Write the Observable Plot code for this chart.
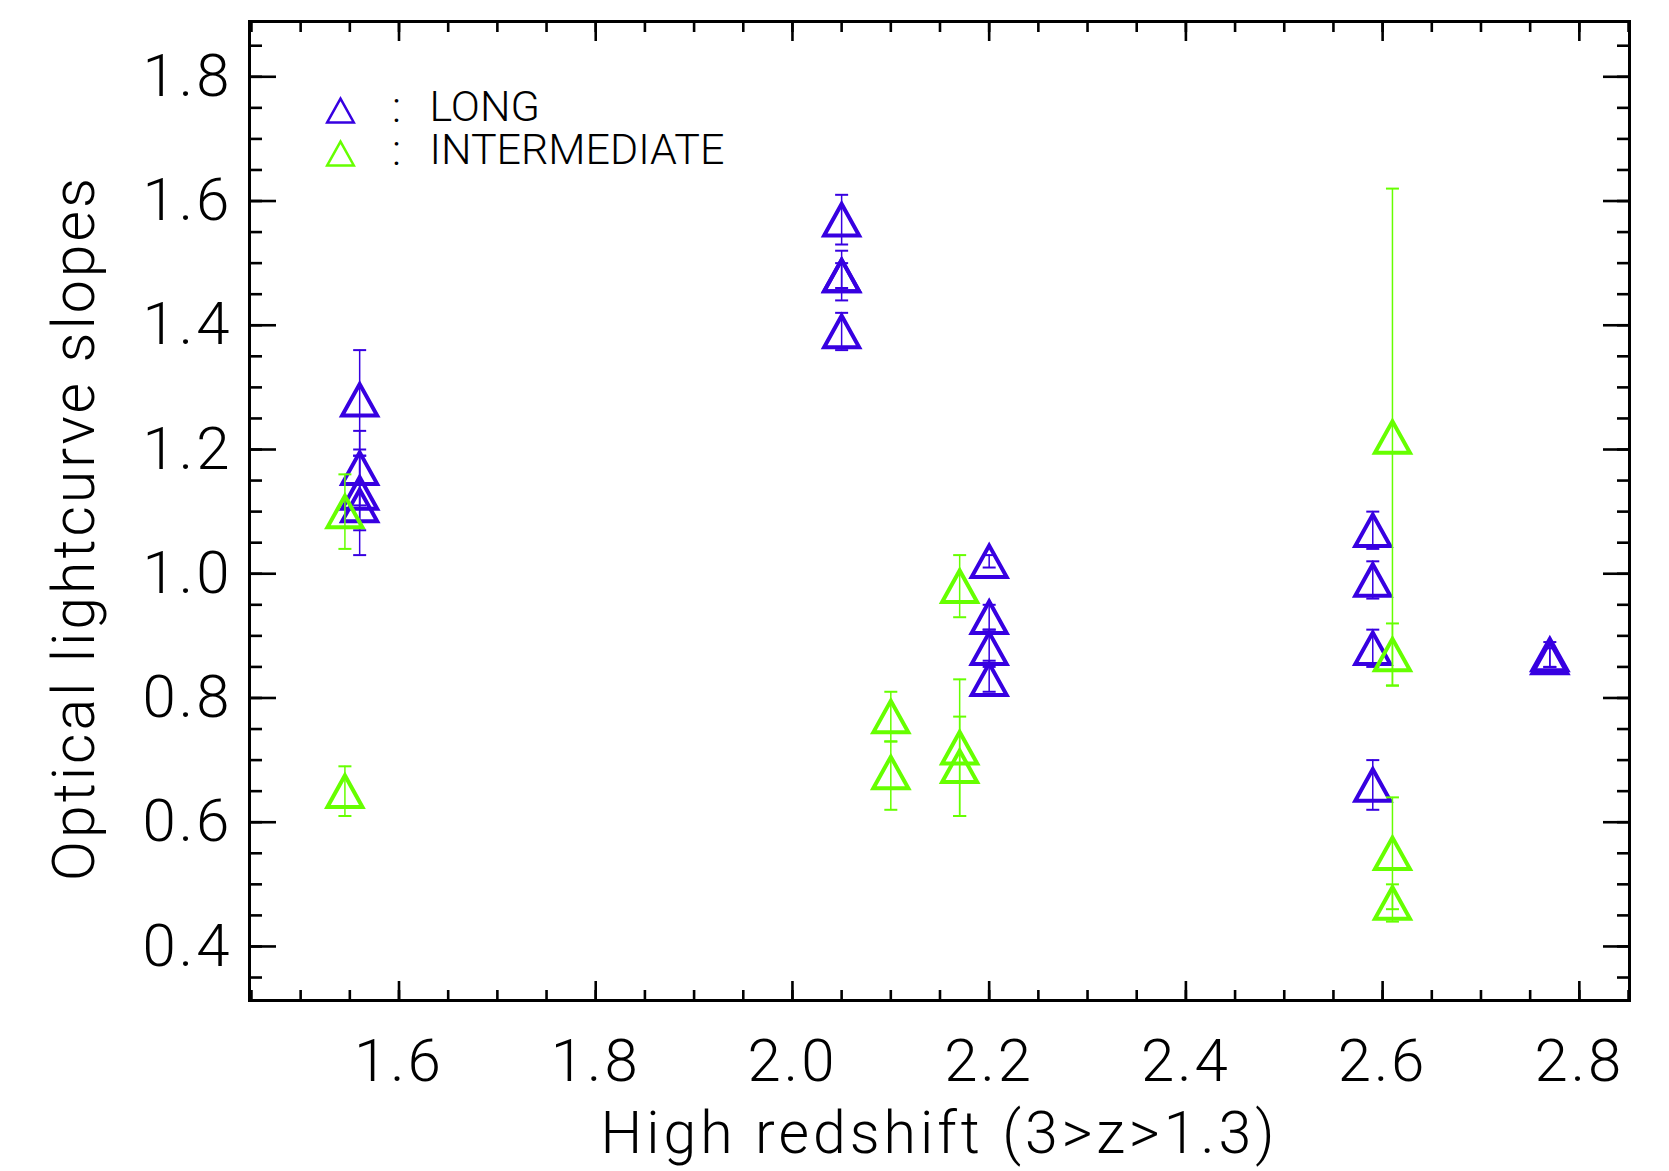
<!DOCTYPE html>
<html>
<head>
<meta charset="utf-8">
<script src="https://cdn.jsdelivr.net/npm/d3@7"></script>
<script src="https://cdn.jsdelivr.net/npm/@observablehq/plot@0.6"></script>
<style>
  html, body { margin: 0; padding: 0; background: #fff; }
</style>
</head>
<body>
<div id="chart"></div>
<script>
// ---- Data ----
const longZ     = [1.56, 1.56, 1.56, 1.56, 2.05, 2.05, 2.05, 2.05, 2.20, 2.20, 2.20, 2.20, 2.59, 2.59, 2.59, 2.59, 2.77, 2.77];
const longSlope = [1.28, 1.17, 1.13, 1.11, 1.57, 1.48, 1.48, 1.39, 1.02, 0.93, 0.88, 0.83, 1.07, 0.99, 0.88, 0.66, 0.87, 0.865];
const longLow   = [1.20, 1.11, 1.07, 1.03, 1.53, 1.44, 1.46, 1.36, 1.01, 0.91, 0.86, 0.81, 1.04, 0.96, 0.85, 0.62, 0.85, 0.85];
const longHigh  = [1.36, 1.23, 1.19, 1.19, 1.61, 1.52, 1.50, 1.42, 1.03, 0.95, 0.91, 0.85, 1.10, 1.02, 0.91, 0.70, 0.89, 0.88];

const interZ     = [1.545, 1.545, 2.10, 2.10, 2.17, 2.17, 2.17, 2.61, 2.61, 2.61, 2.61];
const interSlope = [1.10, 0.65, 0.77, 0.68, 0.98, 0.72, 0.69, 1.22, 0.87, 0.55, 0.47];
const interLow   = [1.04, 0.61, 0.73, 0.62, 0.93, 0.61, 0.61, 0.82, 0.82, 0.46, 0.44];
const interHigh  = [1.16, 0.69, 0.81, 0.73, 1.03, 0.83, 0.77, 1.62, 0.92, 0.64, 0.50];

const seriesNames = ["LONG", "INTERMEDIATE"];
const xTickLabels = [1.6, 1.8, 2.0, 2.2, 2.4, 2.6, 2.8];
const yTickLabels = [0.4, 0.6, 0.8, 1.0, 1.2, 1.4, 1.6, 1.8];
const xTitle = "High redshift (3>z>1.3)";
const yTitle = "Optical lightcurve slopes";

// ---- Styling ----
const blue = "#3700e1";
const green = "#66ff00";
const font = "Roboto, 'DejaVu Sans', sans-serif";

const xMinor = d3.range(29, 58).map(i => i * 0.05);   // 1.45 .. 2.85
const yMinor = d3.range(7, 38).map(i => i * 0.05);    // 0.35 .. 1.85

const longRows = longZ.map((z, i) => ({z, s: longSlope[i], lo: longLow[i], hi: longHigh[i]}));
const interRows = interZ.map((z, i) => ({z, s: interSlope[i], lo: interLow[i], hi: interHigh[i]}));

// IDL-like triangle: bounding box centred on the data point
const tri = {draw(ctx, size) {
  const r = Math.sqrt(size / Math.PI), h = r * 0.9;
  ctx.moveTo(-r, h); ctx.lineTo(0, -h); ctx.lineTo(r, h); ctx.closePath();
}};
const capSym = {draw(ctx, size) {
  const r = Math.sqrt(size / Math.PI);
  ctx.moveTo(-r, 0); ctx.lineTo(r, 0);
}};

function seriesMarks(rows, color) {
  return [
    Plot.ruleX(rows, {x: "z", y1: "lo", y2: "hi", stroke: color, strokeWidth: 1.5}),
    Plot.dot(rows, {x: "z", y: "lo", symbol: capSym, r: 6.5, stroke: color, strokeWidth: 2}),
    Plot.dot(rows, {x: "z", y: "hi", symbol: capSym, r: 6.5, stroke: color, strokeWidth: 2}),
    Plot.dot(rows, {x: "z", y: "s", symbol: tri, r: 17.5, stroke: color, strokeWidth: 4, fill: "none", strokeLinejoin: "miter"})
  ];
}

const tickStyle = {fill: "none", stroke: "black", strokeWidth: 2.6, label: null};
const legendText = {frameAnchor: "top-left", lineAnchor: "middle", fontSize: 43, fontWeight: 300, fill: "black"};

const chart = Plot.plot({
  width: 1669,
  height: 1171,
  marginLeft: 249,
  marginRight: 40,
  marginTop: 21,
  marginBottom: 171,
  style: {fontFamily: font, background: "white", color: "black", overflow: "visible"},
  x: {domain: [1.448, 2.851]},
  y: {domain: [0.313, 1.889]},
  marks: [
    // ticks (inward, on all four sides)
    Plot.axisX(xMinor, {anchor: "bottom", tickSize: -10, ...tickStyle}),
    Plot.axisX(xMinor, {anchor: "top", tickSize: -10, ...tickStyle}),
    Plot.axisX(xTickLabels, {anchor: "bottom", tickSize: -19, ...tickStyle}),
    Plot.axisX(xTickLabels, {anchor: "top", tickSize: -19, ...tickStyle}),
    Plot.axisY(yMinor, {anchor: "left", tickSize: -13, ...tickStyle}),
    Plot.axisY(yMinor, {anchor: "right", tickSize: -13, ...tickStyle}),
    Plot.axisY(yTickLabels, {anchor: "left", tickSize: -27, ...tickStyle}),
    Plot.axisY(yTickLabels, {anchor: "right", tickSize: -27, ...tickStyle}),
    // tick labels
    Plot.axisX(xTickLabels, {anchor: "bottom", tickSize: 0, tickPadding: 38, tickFormat: d => d.toFixed(1),
      fontSize: 60, fontWeight: 300, fill: "black", label: null}),
    Plot.axisY(yTickLabels, {anchor: "left", tickSize: 0, tickPadding: 17, tickFormat: d => d.toFixed(1),
      fontSize: 60, fontWeight: 300, fill: "black", label: null}),
    // axis titles
    Plot.text([xTitle], {text: d => d, frameAnchor: "bottom", textAnchor: "middle", lineAnchor: "middle", dy: 134,
      fontSize: 59, fontWeight: 300, fill: "black"}),
    Plot.text([yTitle], {text: d => d, frameAnchor: "left", textAnchor: "middle", lineAnchor: "middle", dx: -174, dy: 17,
      rotate: -90, fontSize: 59, fontWeight: 300, fill: "black"}),
    // data
    ...seriesMarks(longRows, blue),
    ...seriesMarks(interRows, green),
    // legend
    Plot.dot([seriesNames[0]], {frameAnchor: "top-left", dx: 91, dy: 89, symbol: tri, r: 13.3, stroke: blue, strokeWidth: 2.5, fill: "none", strokeLinejoin: "miter"}),
    Plot.dot([seriesNames[1]], {frameAnchor: "top-left", dx: 91, dy: 132, symbol: tri, r: 13.3, stroke: green, strokeWidth: 2.5, fill: "none", strokeLinejoin: "miter"}),
    Plot.text([":"], {...legendText, text: d => d, textAnchor: "middle", dx: 147, dy: 87}),
    Plot.text([":"], {...legendText, text: d => d, textAnchor: "middle", dx: 147, dy: 130}),
    Plot.text([seriesNames[0]], {...legendText, text: d => d, textAnchor: "start", dx: 180, dy: 86}),
    Plot.text([seriesNames[1]], {...legendText, text: d => d, textAnchor: "start", dx: 180, dy: 129}),
    // frame
    Plot.frame({stroke: "black", strokeWidth: 3})
  ]
});

document.getElementById("chart").appendChild(chart);

// letter spacing to mimic the wide vector font
const svg = d3.select(chart);
svg.selectAll('g[aria-label="x-axis tick label"] text, g[aria-label="y-axis tick label"] text').attr("letter-spacing", "3px");
svg.selectAll("text").filter(function() { return this.textContent === xTitle; }).attr("letter-spacing", "4px");
svg.selectAll("text").filter(function() { return this.textContent === yTitle; }).attr("letter-spacing", "3px");
</script>
</body>
</html>
